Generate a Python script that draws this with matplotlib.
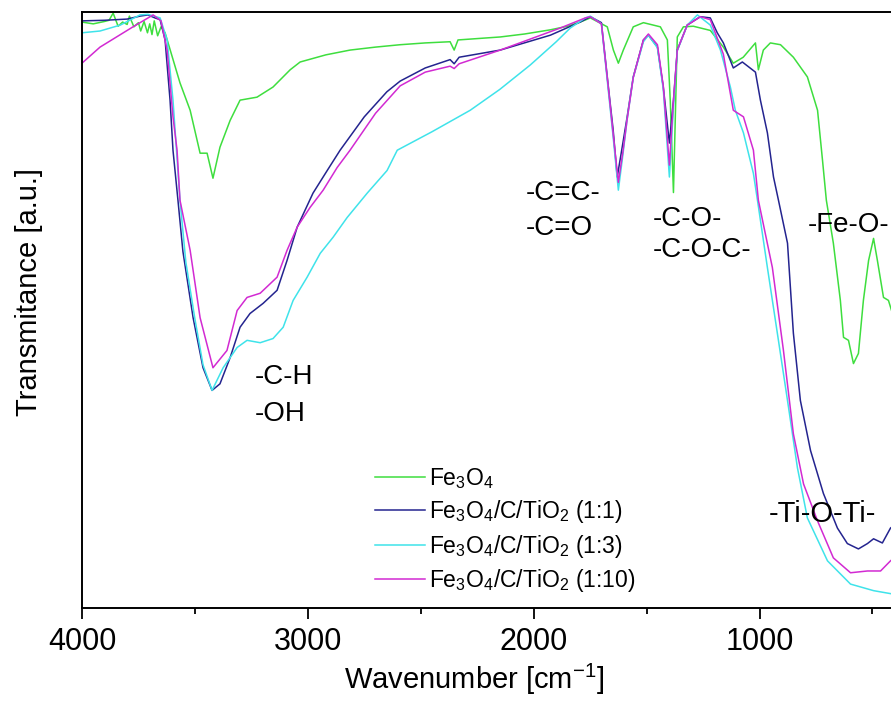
import matplotlib
matplotlib.use("Agg")
import matplotlib.pyplot as plt

plt.rcParams["font.family"] = ["Liberation Sans", "DejaVu Sans"]
plt.rcParams["mathtext.fontset"] = "custom"
plt.rcParams["mathtext.rm"] = "Liberation Sans"
plt.rcParams["mathtext.it"] = "Liberation Sans:italic"
plt.rcParams["mathtext.bf"] = "Liberation Sans:bold"

# Fe3O4
fe_wn = [4000, 3950, 3900, 3880, 3862, 3840, 3820, 3800, 3790, 3770, 3750, 3740, 3725, 3710,
         3700, 3690, 3680, 3665, 3650, 3632, 3566, 3521, 3477, 3446, 3420, 3389, 3344, 3300,
         3225, 3154, 3078, 3034, 2920, 2813, 2700, 2591, 2480, 2370, 2352, 2335, 2148, 2040,
         1926, 1850, 1794, 1749, 1674, 1647, 1625, 1603, 1559, 1514, 1439, 1408, 1395, 1381,
         1364, 1337, 1293, 1218, 1160, 1116, 1072, 1018, 1005, 983, 952, 907, 850, 788, 743,
         721, 704, 673, 642, 628, 606, 584, 562, 540, 517, 495, 478, 451, 429, 400]
fe_t = [98.3, 98.0, 98.4, 98.6, 99.8, 97.6, 98.3, 97.9, 99.3, 97.5, 98.2, 96.8, 98.4, 96.5,
        98.0, 96.2, 98.5, 96.0, 97.5, 96.5, 88.1, 83.5, 76.3, 76.3, 72.1, 77.3, 81.8, 85.2,
        85.7, 87.4, 90.3, 91.6, 92.8, 93.6, 94.1, 94.5, 94.8, 95.0, 93.6, 95.3, 95.8, 96.3,
        97.0, 97.6, 98.3, 99.0, 97.5, 93.6, 91.4, 93.6, 97.5, 98.2, 97.5, 95.3, 85.0, 69.7,
        95.8, 97.5, 97.6, 96.9, 94.1, 91.4, 92.4, 94.8, 90.3, 93.6, 94.8, 94.5, 92.4, 89.1,
        83.5, 75.1, 68.4, 61.2, 51.6, 45.4, 44.9, 41.0, 42.7, 51.6, 58.3, 62.0, 58.3, 52.1,
        51.6, 48.0]

# Fe3O4/C/TiO2 (1:1)
r11_wn = [4000, 3900, 3800, 3743, 3708, 3677, 3654, 3632, 3610, 3597, 3575, 3553, 3508, 3464,
          3424, 3389, 3344, 3300, 3256, 3198, 3136, 3092, 3047, 2977, 2914, 2857, 2750, 2650,
          2591, 2480, 2370, 2352, 2330, 2148, 1926, 1794, 1749, 1700, 1670, 1648, 1630, 1608,
          1586, 1559, 1514, 1492, 1452, 1426, 1399, 1381, 1364, 1320, 1262, 1218, 1187, 1160,
          1116, 1076, 1018, 996, 965, 938, 916, 876, 850, 819, 774, 717, 655, 611, 562, 522,
          495, 456, 420, 400]
r11_t = [98.5, 98.6, 98.8, 99.3, 99.5, 99.0, 98.7, 95.3, 85.2, 76.8, 68.4, 59.8, 48.7, 40.3,
         36.5, 37.6, 42.0, 47.1, 49.4, 51.1, 53.3, 58.3, 63.9, 69.6, 73.4, 76.8, 82.4, 86.6,
         88.4, 90.6, 92.0, 91.3, 92.4, 93.6, 96.1, 98.3, 99.2, 98.2, 87.7, 80.2, 72.3, 77.3,
         82.4, 89.1, 95.3, 96.1, 94.1, 87.4, 78.0, 85.2, 93.6, 97.8, 99.2, 99.0, 96.5, 94.8,
         90.6, 91.6, 89.9, 85.2, 79.7, 72.3, 68.4, 61.2, 46.1, 34.8, 26.4, 19.2, 13.4, 10.8,
         9.9, 10.8, 11.6, 10.9, 13.4, 14.0]

# Fe3O4/C/TiO2 (1:3)
r13_wn = [4000, 3920, 3830, 3743, 3708, 3654, 3623, 3597, 3566, 3540, 3500, 3464, 3424, 3375,
          3313, 3269, 3211, 3154, 3109, 3065, 3003, 2945, 2888, 2826, 2737, 2649, 2604, 2450,
          2281, 2150, 2015, 1900, 1838, 1771, 1749, 1700, 1670, 1648, 1625, 1605, 1586, 1559,
          1514, 1492, 1452, 1426, 1399, 1381, 1364, 1320, 1275, 1218, 1173, 1129, 1107, 1071,
          1027, 1009, 965, 921, 876, 832, 788, 699, 597, 495, 420, 400]
r13_t = [96.5, 96.8, 97.8, 99.5, 99.6, 99.0, 95.3, 85.2, 68.4, 58.0, 48.5, 40.8, 36.5, 40.3,
         43.7, 44.9, 44.5, 45.2, 47.1, 51.6, 55.5, 59.5, 62.2, 65.5, 69.6, 73.4, 76.8, 79.9,
         83.5, 87.0, 91.1, 95.0, 97.3, 99.0, 99.3, 98.0, 87.0, 79.0, 70.1, 76.0, 82.0, 89.0,
         95.0, 96.1, 94.0, 87.0, 72.3, 84.0, 93.5, 97.8, 99.5, 97.8, 93.6, 87.4, 83.5, 79.7,
         72.9, 68.4, 57.1, 46.1, 34.8, 23.5, 15.1, 7.9, 4.0, 2.9, 2.4, 2.3]

# Fe3O4/C/TiO2 (1:10)
r110_wn = [4000, 3920, 3774, 3685, 3650, 3623, 3597, 3579, 3566, 3521, 3477, 3420, 3358, 3313,
           3269, 3211, 3136, 3092, 3047, 2990, 2932, 2870, 2813, 2700, 2591, 2480, 2370, 2352,
           2330, 2148, 1882, 1771, 1749, 1700, 1670, 1648, 1625, 1605, 1586, 1559, 1514, 1492,
           1452, 1426, 1399, 1381, 1364, 1320, 1262, 1218, 1187, 1160, 1116, 1071, 1027, 1005,
           943, 894, 850, 805, 743, 673, 597, 522, 464, 420, 400]
r110_t = [91.4, 94.1, 97.5, 99.5, 98.5, 93.6, 82.4, 76.8, 68.4, 60.0, 48.7, 40.3, 43.2, 49.9,
          52.1, 52.8, 55.5, 60.0, 63.9, 67.2, 70.1, 73.9, 76.8, 83.0, 87.6, 89.9, 90.9, 90.5,
          91.3, 93.6, 97.3, 99.0, 99.2, 98.0, 87.5, 79.5, 71.4, 76.5, 82.0, 89.0, 95.3, 96.3,
          94.5, 87.5, 74.3, 85.0, 93.6, 97.8, 99.2, 98.7, 95.6, 92.9, 83.5, 82.4, 76.8, 68.4,
          57.1, 43.2, 29.2, 20.8, 14.6, 8.4, 5.9, 6.2, 6.2, 7.9, 8.5]

series = [
    (fe_wn, fe_t, "#3ede3e", "Fe$_3$O$_4$"),
    (r11_wn, r11_t, "#24248f", "Fe$_3$O$_4$/C/TiO$_2$ (1:1)"),
    (r13_wn, r13_t, "#3fe3ea", "Fe$_3$O$_4$/C/TiO$_2$ (1:3)"),
    (r110_wn, r110_t, "#d22ad2", "Fe$_3$O$_4$/C/TiO$_2$ (1:10)"),
]

# band labels: (text, wavenumber at left edge, transmittance at centre, size)
band_labels = [
    ("-C-H", 3233, 38.7, 20),
    ("-OH", 3233, 32.6, 20),
    ("-C=C-", 2037, 69.6, 20),
    ("-C=O", 2037, 63.7, 20),
    ("-C-O-", 1474, 65.2, 20),
    ("-C-O-C-", 1474, 60.0, 20),
    ("-Fe-O-", 788, 64.2, 20),
    ("-Ti-O-Ti-", 961, 15.8, 21),
]

fig = plt.figure(figsize=(8.91, 7.02), dpi=100)
ax = fig.add_axes([0.092, 0.134, 0.9125, 0.849])

for wn, t, color, label in series:
    ax.plot(wn, t, color=color, lw=1.1, label=label)

for text, wn, t, size in band_labels:
    ax.text(wn, t, text, fontsize=size, ha="left", va="center")

ax.set_xlim(4000, 400)
ax.set_ylim(0, 100)
ax.set_xticks([4000, 3000, 2000, 1000])
ax.set_xticks([3500, 2500, 1500, 500], minor=True)
ax.set_yticks([])
ax.tick_params(axis="x", which="major", length=8, width=1.3, labelsize=22, pad=6, direction="out")
ax.tick_params(axis="x", which="minor", length=4, width=1.3, direction="out")
for side in ax.spines.values():
    side.set_linewidth(1.4)

ax.set_xlabel("Wavenumber [cm$^{-1}$]", fontsize=21)
ax.xaxis.set_label_coords(0.482, -0.091)
ax.set_ylabel("Transmitance [a.u.]", fontsize=21)
ax.yaxis.set_label_coords(-0.048, 0.53)

ax.legend(loc="upper left", bbox_to_anchor=(0.36, 0.238), frameon=False, fontsize=16.5,
          handlelength=2.2, handletextpad=0.15, labelspacing=0.32, borderpad=0, borderaxespad=0)

fig.savefig("out.png", dpi=100)
